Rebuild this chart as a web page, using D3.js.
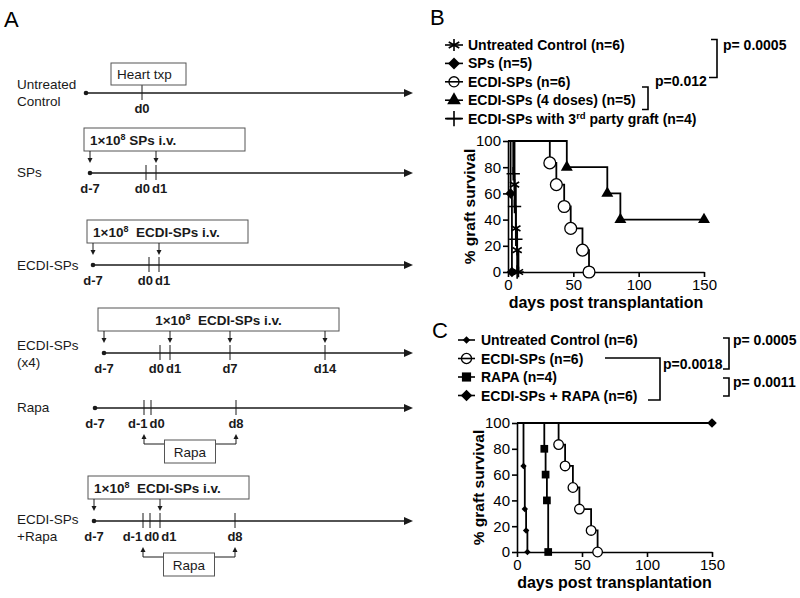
<!DOCTYPE html>
<html><head><meta charset="utf-8">
<script src="https://cdn.jsdelivr.net/npm/d3@7"></script>
<style>body{margin:0;background:#fff}svg{display:block;font-family:Arial,"Liberation Sans",sans-serif}</style>
</head><body><svg id="fig" width="800" height="598"></svg>
<script>
// ---------------- Panel A: protocol schematic data ----------------
const protocolNames = [["Untreated","Control"],["SPs"],["ECDI-SPs"],["ECDI-SPs","(x4)"],["Rapa"],["ECDI-SPs","+Rapa"]];
const protocolTicks = [[0],[0,1],[0,1],[0,1,7,14],[-1,0,8],[-1,0,1,8]];
const protocolDayLabels = [[0],[-7,0,1],[-7,0,1],[-7,0,1,7,14],[-7,-1,0,8],[-7,-1,0,1,8]];
const injectionDays = [[],[-7,1],[-7,1],[-7,1,7,14],[],[-7,1]];
const injectionText = [null,"1×10^{8} SPs i.v.","1×10^{8}  ECDI-SPs i.v.","1×10^{8}  ECDI-SPs i.v.",null,"1×10^{8}  ECDI-SPs i.v."];
const rapaDays = [[],[],[],[],[-1,8],[-1,8]];
const transplantText = ["Heart txp",null,null,null,null,null];

// ---------------- Panel B data ----------------
const bLabels = ["Untreated Control (n=6)","SPs (n=5)","ECDI-SPs (n=6)","ECDI-SPs (4 doses) (n=5)","ECDI-SPs with 3^{rd} party graft (n=4)"];
const bDays = [[5,6,7,8],[2,3],[32,37,43,48,57,62],[45,76,86,150],[4,5,6,7]];
const bSurvival = [[66.7,33.3,16.7,0],[60,0],[83.3,66.7,50,33.3,16.7,0],[80,60,40,40],[75,50,25,0]];
const bSymbols = ["asterisk","diamond","circle","triangle","plus"];
const bPValues = ["p= 0.0005","p=0.012"];

// ---------------- Panel C data ----------------
const cLabels = ["Untreated Control (n=6)","ECDI-SPs (n=6)","RAPA (n=4)","ECDI-SPs + RAPA (n=6)"];
const cDays = [[5,6,7,8],[32,37,43,48,57,62],[21,22,23,24],[150]];
const cSurvival = [[66.7,33.3,16.7,0],[83.3,66.7,50,33.3,16.7,0],[80,60,40,0],[100]];
const cSymbols = ["smalldiamond","circle","square","diamond"];
const cPValues = ["p= 0.0005","p=0.0018","p= 0.0011"];

const xTicks = [0,50,100,150];
const yTicks = [0,20,40,60,80,100];
const xTitle = "days post transplantation";
const yTitle = "% graft survival";
const panelLetters = ["A","B","C"];

// ---------------- helpers ----------------
const svg = d3.select("#fig");
svg.append("rect").attr("width",800).attr("height",598).attr("fill","#fff");
const FONT = "Arial, 'Liberation Sans', sans-serif";

function rich(textSel, str, supSize) {
  const parts = str.split(/\^\{([^}]*)\}/);
  parts.forEach((p,i)=>{
    if (p === "") return;
    const t = textSel.append("tspan").text(p);
    if (i % 2 === 1) { t.attr("dy",-5).attr("font-size",supSize); }
    else if (i > 0) { t.attr("dy",5); }
  });
  textSel.attr("xml:space","preserve").style("white-space","pre");
  return textSel;
}

// panel letters
const letterPos = [[4,27],[430,25],[432,338]];
panelLetters.forEach((L,i)=>svg.append("text").attr("x",letterPos[i][0]).attr("y",letterPos[i][1])
  .attr("font-size",22).attr("font-family",FONT).text(L));

// ---------------- Panel A drawing ----------------
const dayPos = d3.scaleLinear().domain([-7,-1,0,1,7,8,14]).range([0,49,56,66,126,141,221]);
const rowY = [93,173,265,353,408,521];
const rowX0 = [86,90,93,104,95,94];
const labelDy = [-4,4,5,-3,4,3];
const axisEnd = 413;
const ink = "#1a1a1a";
const gA = svg.append("g").attr("font-family",FONT);

protocolNames.forEach((names,i)=>{
  const y = rowY[i], x0 = rowX0[i];
  const X = d => x0 + dayPos(d);
  names.forEach((n,k)=>gA.append("text").attr("x",17).attr("y",y+labelDy[i]+k*17)
    .attr("font-size",13.5).attr("fill",ink).text(n));
  gA.append("line").attr("x1",x0).attr("x2",axisEnd-8).attr("y1",y).attr("y2",y).attr("stroke",ink).attr("stroke-width",1.3);
  gA.append("path").attr("d",`M${axisEnd},${y}L${axisEnd-9},${y-4}L${axisEnd-9},${y+4}Z`).attr("fill",ink);
  gA.append("circle").attr("cx",X(-7)).attr("cy",y).attr("r",2.3).attr("fill",ink);
  protocolTicks[i].forEach(d=>{
    gA.append("line").attr("x1",X(d)).attr("x2",X(d)).attr("y1",y-8).attr("y2",y+7)
      .attr("stroke",ink).attr("stroke-width",1);
  });
  const labs = protocolDayLabels[i].map(d=>{
    const t = gA.append("text").attr("y",y+20).attr("font-size",13).attr("font-weight","bold")
      .attr("fill",ink).attr("text-anchor","middle").text("d"+d);
    return {t, cx:X(d), w:t.node().getComputedTextLength()};
  });
  for (let it=0; it<20; it++) {
    for (let k=1;k<labs.length;k++){
      const a=labs[k-1], b=labs[k];
      const ov = (a.cx+a.w/2+2) - (b.cx-b.w/2);
      if (ov>0){ a.cx-=ov/2; b.cx+=ov/2; }
    }
  }
  labs.forEach(l=>l.t.attr("x",l.cx));
  if (transplantText[i]) {
    const tx = X(0);
    gA.append("rect").attr("x",tx-31).attr("y",y-30).attr("width",75).attr("height",22)
      .attr("fill","#fff").attr("stroke","#555").attr("stroke-width",1);
    gA.append("text").attr("x",tx-25).attr("y",y-14).attr("font-size",13.5).attr("fill",ink).text(transplantText[i]);
  }
  if (injectionDays[i].length) {
    const last = X(d3.max(injectionDays[i]));
    const bx = x0-6, bw = Math.max(x0+155, last+14) - bx;
    gA.append("rect").attr("x",bx).attr("y",y-45).attr("width",bw).attr("height",23)
      .attr("fill","#fff").attr("stroke","#555").attr("stroke-width",1);
    const centered = injectionDays[i].length > 2;
    const t = gA.append("text").attr("y",y-28).attr("font-size",13.5).attr("font-weight","bold").attr("fill",ink)
      .attr("x",centered ? bx+bw/2 : bx+6).attr("text-anchor",centered?"middle":"start");
    rich(t, injectionText[i], 9);
    injectionDays[i].forEach(d=>{
      const ax = X(d);
      gA.append("line").attr("x1",ax).attr("x2",ax).attr("y1",y-22).attr("y2",y-14).attr("stroke",ink).attr("stroke-width",1);
      gA.append("path").attr("d",`M${ax},${y-10}L${ax-2.5},${y-15}L${ax+2.5},${y-15}Z`).attr("fill",ink);
    });
  }
  if (rapaDays[i].length) {
    const xs = rapaDays[i].map(X);
    const by = y+36;
    gA.append("path").attr("d",`M${xs[0]},${y+30}V${by}H${xs[1]}V${y+30}`).attr("fill","none").attr("stroke",ink).attr("stroke-width",1);
    xs.forEach(ax=>gA.append("path").attr("d",`M${ax},${y+26}L${ax-2.5},${y+31}L${ax+2.5},${y+31}Z`).attr("fill",ink));
    const mid = (xs[0]+xs[1])/2;
    gA.append("rect").attr("x",mid-25.5).attr("y",y+32).attr("width",51).attr("height",23)
      .attr("fill","#fff").attr("stroke","#555").attr("stroke-width",1);
    gA.append("text").attr("x",mid).attr("y",y+49).attr("text-anchor","middle").attr("font-size",13.5).attr("fill",ink).text("Rapa");
  }
});

// ---------------- Survival panels ----------------
function symbolPath(type, scale, circleArea) {
  const s = scale||1;
  switch(type){
    case "asterisk": return {d:d3.symbol(d3.symbolAsterisk, 80*s)(), fill:"none", stroke:"#000", sw:1.6};
    case "plus": return {d:d3.symbol(d3.symbolPlus, 60*s)(), fill:"none", stroke:"#000", sw:1.6};
    case "circle": return {d:d3.symbol(d3.symbolCircle, circleArea)(), fill:"#fff", stroke:"#000", sw:1.3};
    case "triangle": return {d:d3.symbol(d3.symbolTriangle, 62*s)(), fill:"#000", stroke:"none", sw:0};
    case "diamond": return {d:d3.symbol(d3.symbolSquare, 55*s)(), fill:"#000", stroke:"none", sw:0, rot:45};
    case "smalldiamond": return {d:d3.symbol(d3.symbolSquare, 24*s)(), fill:"#000", stroke:"none", sw:0, rot:45};
    case "square": return {d:d3.symbol(d3.symbolSquare, 70*s)(), fill:"#000", stroke:"none", sw:0};
  }
}
function drawSymbol(g, type, x, y, scale, circleArea, legend) {
  const p = symbolPath(type, scale, circleArea);
  g.append("path").attr("d",p.d).attr("transform",`translate(${x},${y})${p.rot?` rotate(${p.rot})`:""}`)
    .attr("fill", legend && type==="circle" ? "none" : p.fill).attr("stroke",p.stroke).attr("stroke-width",p.sw);
}

function survivalPanel(cfg) {
  const g = svg.append("g").attr("font-family",FONT);
  const x = d3.scaleLinear().domain([0,150]).range(cfg.xr);
  const y = d3.scaleLinear().domain([0,100]).range(cfg.yr);
  const line = d3.line().x(d=>x(d[0])).y(d=>y(d[1])).curve(d3.curveStepAfter);
  cfg.days.forEach((ds,i)=>{
    const pts = [[0,100]].concat(ds.map((d,k)=>[d,cfg.surv[i][k]]));
    g.append("path").attr("d",line(pts)).attr("fill","none").attr("stroke","#000").attr("stroke-width",1.8);
  });
  const xa = g.append("g").attr("transform",`translate(0,${y(0)})`)
    .call(d3.axisBottom(x).tickValues(xTicks).tickSize(5).tickSizeOuter(0).tickPadding(2));
  const ya = g.append("g").attr("transform",`translate(${x(0)},0)`)
    .call(d3.axisLeft(y).tickValues(yTicks).tickSize(5).tickSizeOuter(0).tickPadding(2));
  [xa,ya].forEach(a=>{
    a.select(".domain").attr("stroke","#000").attr("stroke-width",1.6);
    a.selectAll(".tick line").attr("stroke","#000").attr("stroke-width",1.6);
    a.selectAll(".tick text").attr("font-size",15).attr("font-family",FONT).attr("fill","#000");
  });
  cfg.days.forEach((ds,i)=>{
    ds.forEach((d,k)=>drawSymbol(g, cfg.symbols[i], x(d), y(cfg.surv[i][k]), cfg.msize, cfg.circleArea, false));
  });
  g.append("text").attr("x",(cfg.xr[0]+cfg.xr[1])/2).attr("y",y(0)+36).attr("text-anchor","middle")
    .attr("font-size",16).attr("font-weight","bold").text(xTitle);
  g.append("text").attr("transform",`translate(${x(0)-33},${(cfg.yr[0]+cfg.yr[1])/2}) rotate(-90)`)
    .attr("text-anchor","middle").attr("font-size",15.5).attr("font-weight","bold").text(yTitle);
  cfg.labels.forEach((lab,i)=>{
    const by = cfg.legY + i*cfg.legDy;
    g.append("line").attr("x1",cfg.legX[0]).attr("x2",cfg.legX[1]).attr("y1",by-5).attr("y2",by-5)
      .attr("stroke","#000").attr("stroke-width",1.6);
    drawSymbol(g, cfg.symbols[i], (cfg.legX[0]+cfg.legX[1])/2, by-5, cfg.legSize, 80, true);
    const t = g.append("text").attr("x",cfg.legText).attr("y",by).attr("font-size",14).attr("font-weight","bold");
    rich(t, lab, 9.5);
  });
  return g;
}

const gB = survivalPanel({xr:[508,704], yr:[272,141], days:bDays, surv:bSurvival, symbols:bSymbols,
  labels:bLabels, legX:[445,463], legText:468, legY:50, legDy:18.4, msize:1, circleArea:110, legSize:1.3});
const gC = survivalPanel({xr:[517,712], yr:[552,423], days:cDays, surv:cSurvival, symbols:cSymbols,
  labels:cLabels, legX:[458,475], legText:481, legY:345, legDy:18.5, msize:0.85, circleArea:72, legSize:1.2});

function bracket(g, d) { g.append("path").attr("d",d).attr("fill","none").attr("stroke","#000").attr("stroke-width",1.6); }
function ptext(g, x, y, s) { g.append("text").attr("x",x).attr("y",y).attr("font-size",14).attr("font-weight","bold").attr("font-family",FONT).text(s); }
bracket(gB, "M711,39.5H717V77.5H709");
ptext(gB, 723, 50, bPValues[0]);
bracket(gB, "M642,87H648V109.5H642");
ptext(gB, 655, 86, bPValues[1]);

bracket(gC, "M605,358H660V400H648");
ptext(gC, 663, 369, cPValues[1]);
bracket(gC, "M723,338H729V369H723");
ptext(gC, 733, 345, cPValues[0]);
bracket(gC, "M723,378H729V396H723");
ptext(gC, 733, 387, cPValues[2]);
</script></body></html>
